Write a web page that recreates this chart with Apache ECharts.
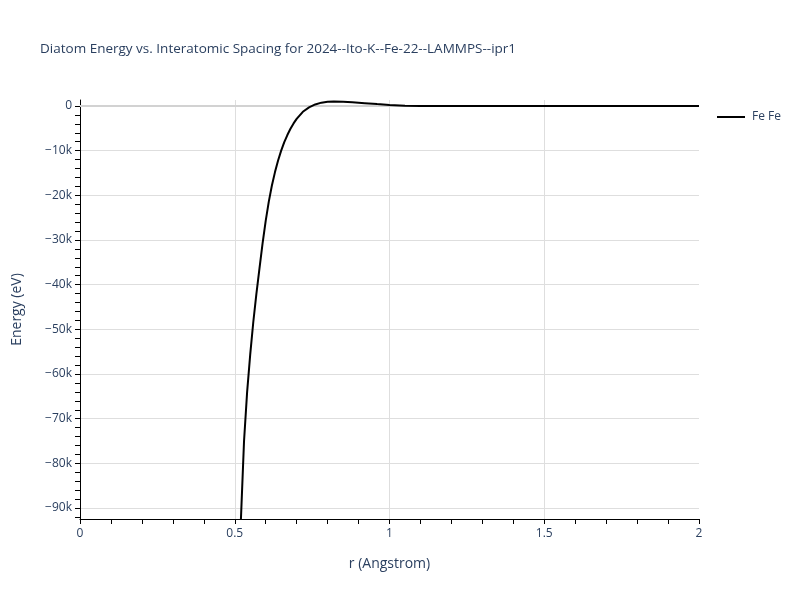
<!DOCTYPE html>
<html>
<head>
<meta charset="utf-8">
<script src="https://cdn.jsdelivr.net/npm/echarts@6/dist/echarts.min.js"></script>
<style>html,body{margin:0;padding:0;background:#fff}#c{width:800px;height:600px}</style>
</head>
<body>
<div id="c"></div>
<script>
const titleText = 'Diatom Energy vs. Interatomic Spacing for 2024--Ito-K--Fe-22--LAMMPS--ipr1';
const seriesName = 'Fe Fe';
const rValues = [0.51, 0.52, 0.53, 0.54, 0.55, 0.56, 0.57, 0.58, 0.59, 0.60, 0.61, 0.62, 0.63, 0.64, 0.65, 0.66, 0.67, 0.68, 0.69, 0.70, 0.72, 0.74, 0.76, 0.78, 0.80, 0.82, 0.85, 0.88, 0.92, 0.96, 1.00, 1.05, 1.10, 1.20, 1.40, 1.60, 1.80, 2.00];
const energyValues = [-112000, -92400, -75000, -64000, -55600, -48300, -42000, -36300, -30700, -25700, -21400, -17800, -14800, -12200, -10000, -8100, -6500, -5100, -3900, -2900, -1300, -300, 350, 750, 950, 1000, 950, 820, 620, 420, 240, 60, 20, 0, 0, 0, 0, 0];
const xTicks = [0, 0.5, 1, 1.5, 2];
const yMajorTicks = [-90000, -80000, -70000, -60000, -50000, -40000, -30000, -20000, -10000, 0];
const yMinorTicks = [];
for (let v = -92000; v <= 0; v += 2000) yMinorTicks.push(v);
const xRange = [0, 2];
const yRange = [-92450, 1340];

const font = '"Open Sans", "Noto Sans", sans-serif';
const txt = '#2a3f5f';
const chart = echarts.init(document.getElementById('c'), null, {renderer: 'canvas'});
const fmtY = v => v === 0 ? '0' : (v < 0 ? '\u2212' : '') + Math.abs(v) / 1000 + 'k';

chart.setOption({
  animation: false,
  backgroundColor: '#fff',
  title: {
    text: titleText, left: 35, top: 37,
    textStyle: {fontFamily: font, fontSize: 13.5, fontWeight: 'normal', color: txt}
  },
  legend: {
    left: 712, top: 106, icon: 'rect', itemWidth: 28, itemHeight: 2, itemGap: 10,
    data: [{name: seriesName}],
    textStyle: {fontFamily: font, fontSize: 12, color: txt, padding: [0, 0, 0, 2]}
  },
  grid: {left: 80, right: 101, top: 100, bottom: 81},
  xAxis: {
    type: 'value', min: xRange[0], max: xRange[1], interval: 0.5,
    name: 'r (Angstrom)', nameLocation: 'middle', nameGap: 38,
    nameTextStyle: {fontFamily: font, fontSize: 14, color: txt},
    axisLine: {show: true, onZero: false, lineStyle: {color: '#000', width: 1}},
    axisTick: {show: true, length: 5, lineStyle: {color: '#000'}},
    minorTick: {show: true, splitNumber: 5, length: 5, lineStyle: {color: '#000'}},
    axisLabel: {fontFamily: font, fontSize: 12, color: txt, margin: 9,
      formatter: v => String(v)},
    splitLine: {show: true, showMinLine: false, showMaxLine: false, lineStyle: {color: '#dedede', width: 1}}
  },
  yAxis: [{
    type: 'value', min: yRange[0], max: yRange[1], splitNumber: 10,
    position: 'left',
    name: 'Energy (eV)', nameLocation: 'middle', nameGap: 56,
    nameTextStyle: {fontFamily: font, fontSize: 14, color: txt},
    axisLine: {show: true, onZero: false, lineStyle: {color: '#000', width: 1}},
    axisTick: {show: false},
    axisLabel: {fontFamily: font, fontSize: 12, color: txt, margin: 8,
      customValues: yMajorTicks, formatter: fmtY},
    splitLine: {show: true, showMinLine: false, showMaxLine: false, lineStyle: {color: '#dedede', width: 1}}
  }, {
    type: 'value', min: yRange[0], max: yRange[1], position: 'left', offset: 0,
    axisLine: {show: false, onZero: false},
    axisTick: {show: true, length: 5, customValues: yMinorTicks, lineStyle: {color: '#000'}},
    axisLabel: {show: false},
    splitLine: {show: false}
  }],
  series: [{
    name: seriesName, type: 'line', yAxisIndex: 0,
    data: rValues.map((r, i) => [r, energyValues[i]]),
    showSymbol: false, symbol: 'none', clip: true,
    lineStyle: {color: '#000', width: 2}, itemStyle: {color: '#000'},
    z: 5,
    markLine: {
      silent: true, symbol: 'none', label: {show: false},
      lineStyle: {color: '#d2d2d2', width: 2, type: 'solid'},
      data: [{yAxis: 0}], z: 1
    }
  }]
});
</script>
</body>
</html>
